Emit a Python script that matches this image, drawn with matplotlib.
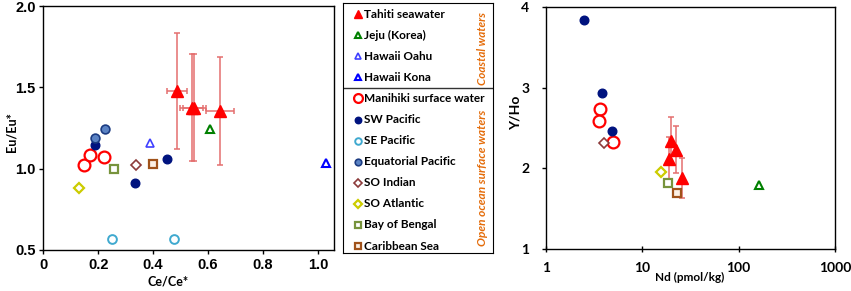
import numpy as np
import matplotlib.pyplot as plt

plt.rcParams['font.family'] = ['Lato', 'DejaVu Sans']
plt.rcParams['font.weight'] = 'bold'

# ---- left panel: Ce/Ce* vs Eu/Eu*
tahiti_ce = [0.486, 0.540, 0.549, 0.643]
tahiti_eu = [1.48, 1.375, 1.375, 1.355]
tahiti_ce_err = [0.036, 0.042, 0.042, 0.052]
tahiti_eu_err = [0.357, 0.33, 0.33, 0.33]
jeju_ce, jeju_eu = [0.608], [1.244]
oahu_ce, oahu_eu = [0.388], [1.158]
kona_ce, kona_eu = [1.03], [1.035]
manihiki_ce, manihiki_eu = [0.148, 0.17, 0.222], [1.025, 1.086, 1.072]
swpac_ce, swpac_eu = [0.188, 0.333, 0.452], [1.144, 0.913, 1.06]
sepac_ce, sepac_eu = [0.251, 0.475], [0.569, 0.569]
eqpac_ce, eqpac_eu = [0.188, 0.226], [1.189, 1.244]
soind_ce, soind_eu = [0.339], [1.023]
soatl_ce, soatl_eu = [0.131], [0.884]
bengal_ce, bengal_eu = [0.258], [0.999]
carib_ce, carib_eu = [0.399], [1.031]

# ---- right panel: Nd vs Y/Ho
tahiti_nd = [19.7, 22.4, 18.8, 25.8]
tahiti_yho = [2.34, 2.23, 2.12, 1.88]
tahiti_yho_err = [0.30, 0.29, 0.27, 0.25]
jeju_nd, jeju_yho = [161], [1.80]
manihiki_nd, manihiki_yho = [3.65, 3.59, 4.97], [2.73, 2.59, 2.33]
swpac_nd, swpac_yho = [2.47, 3.85, 4.82], [3.83, 2.93, 2.46]
soind_nd, soind_yho = [3.98], [2.32]
soatl_nd, soatl_yho = [15.5], [1.95]
bengal_nd, bengal_yho = [18.6], [1.82]
carib_nd, carib_yho = [23.1], [1.69]

names = ['Tahiti seawater', 'Jeju (Korea)', 'Hawaii Oahu', 'Hawaii Kona',
         'Manihiki surface water', 'SW Pacific', 'SE Pacific', 'Equatorial Pacific',
         'SO Indian', 'SO Atlantic', 'Bay of Bengal', 'Caribbean Sea']

left_data = {
    'Tahiti seawater': (tahiti_ce, tahiti_eu),
    'Jeju (Korea)': (jeju_ce, jeju_eu),
    'Hawaii Oahu': (oahu_ce, oahu_eu),
    'Hawaii Kona': (kona_ce, kona_eu),
    'Manihiki surface water': (manihiki_ce, manihiki_eu),
    'SW Pacific': (swpac_ce, swpac_eu),
    'SE Pacific': (sepac_ce, sepac_eu),
    'Equatorial Pacific': (eqpac_ce, eqpac_eu),
    'SO Indian': (soind_ce, soind_eu),
    'SO Atlantic': (soatl_ce, soatl_eu),
    'Bay of Bengal': (bengal_ce, bengal_eu),
    'Caribbean Sea': (carib_ce, carib_eu),
}
right_data = {
    'Tahiti seawater': (tahiti_nd, tahiti_yho),
    'Jeju (Korea)': (jeju_nd, jeju_yho),
    'Manihiki surface water': (manihiki_nd, manihiki_yho),
    'SW Pacific': (swpac_nd, swpac_yho),
    'SO Indian': (soind_nd, soind_yho),
    'SO Atlantic': (soatl_nd, soatl_yho),
    'Bay of Bengal': (bengal_nd, bengal_yho),
    'Caribbean Sea': (carib_nd, carib_yho),
}

# marker styles
styles = {
    'Tahiti seawater': dict(marker='^', mfc='#ff0000', mec='#ff0000', ms=8, mew=1),
    'Jeju (Korea)': dict(marker='^', mfc='white', mec='#008000', ms=6, mew=1.5),
    'Hawaii Oahu': dict(marker='^', mfc='white', mec='#4040ff', ms=6, mew=1.2),
    'Hawaii Kona': dict(marker='^', mfc='white', mec='#0000ff', ms=6, mew=1.5),
    'Manihiki surface water': dict(marker='o', mfc='white', mec='#ff0000', ms=8.5, mew=1.6),
    'SW Pacific': dict(marker='o', mfc='#00137f', mec='#00137f', ms=6.2, mew=1),
    'SE Pacific': dict(marker='o', mfc='white', mec='#3fa9cf', ms=6.3, mew=1.4),
    'Equatorial Pacific': dict(marker='o', mfc='#5b83c4', mec='#1c3c82', ms=6.3, mew=1.2),
    'SO Indian': dict(marker='D', mfc='white', mec='#8c3a3a', ms=5.5, mew=1.2),
    'SO Atlantic': dict(marker='D', mfc='white', mec='#cccc00', ms=5.5, mew=1.6),
    'Bay of Bengal': dict(marker='s', mfc='white', mec='#77933c', ms=6, mew=1.6),
    'Caribbean Sea': dict(marker='s', mfc='#fdf0e4', mec='#a0521a', ms=6, mew=1.6),
}

err_color = '#e46f6f'

fig = plt.figure(figsize=(8.51, 2.91), dpi=100)
ax1 = fig.add_axes([0.0509, 0.141, 0.342, 0.838])
leg = fig.add_axes([0.4027, 0.1306, 0.1766, 0.859])
ax2 = fig.add_axes([0.6416, 0.1433, 0.3396, 0.834])

# left panel
ax1.errorbar(tahiti_ce, tahiti_eu, xerr=tahiti_ce_err, yerr=tahiti_eu_err, fmt='none',
             ecolor=err_color, elinewidth=1.1, capsize=2.5, capthick=1.1, zorder=2)
for n in names:
    x, y = left_data[n]
    ax1.plot(x, y, linestyle='none', zorder=3, **styles[n])
ax1.set_xlim(0, 1.06)
ax1.set_ylim(0.5, 2.0)
ax1.set_xticks([0, 0.2, 0.4, 0.6, 0.8, 1.0])
ax1.set_xticklabels(['0', '0.2', '0.4', '0.6', '0.8', '1.0'])
ax1.set_yticks([0.5, 1.0, 1.5, 2.0])
ax1.set_yticklabels(['0.5', '1.0', '1.5', '2.0'])
for lab in ax1.get_xticklabels() + ax1.get_yticklabels():
    lab.set_family(['Liberation Sans', 'DejaVu Sans'])
    lab.set_fontsize(10.5)
    lab.set_fontweight('bold')
ax1.tick_params(direction='out', length=3, width=1, pad=2.5)
ax1.text(-0.108, 0.485, 'Eu/Eu*', rotation=90, transform=ax1.transAxes,
         ha='center', va='center', fontsize=9)
ax1.text(0.428, -0.13, 'Ce/Ce*', transform=ax1.transAxes,
         ha='center', va='center', fontsize=9)

# right panel
ax2.errorbar(tahiti_nd, tahiti_yho, yerr=tahiti_yho_err, fmt='none',
             ecolor=err_color, elinewidth=1.1, capsize=2.5, capthick=1.1, zorder=2)
for n in names:
    if n not in right_data:
        continue
    x, y = right_data[n]
    ax2.plot(x, y, linestyle='none', zorder=3, **styles[n])
ax2.set_xscale('log')
ax2.set_xlim(1, 1000)
ax2.set_ylim(1, 4)
ax2.set_xticks([1, 10, 100, 1000])
ax2.set_xticklabels(['1', '10', '100', '1000'])
ax2.xaxis.set_minor_locator(plt.NullLocator())
ax2.set_yticks([1, 2, 3, 4])
ax2.set_yticklabels(['1', '2', '3', '4'])
ax2.tick_params(axis='x', direction='inout', length=5, width=1, pad=7, labelsize=10)
ax2.tick_params(axis='y', direction='out', length=3, width=1, pad=9, labelsize=10)
ax2.text(-0.107, 0.562, 'Y/Ho', rotation=90, transform=ax2.transAxes,
         ha='center', va='center', fontsize=10)
ax2.text(0.498, -0.115, 'Nd (pmol/kg)', transform=ax2.transAxes,
         ha='center', va='center', fontsize=8.5)

for a in (ax1, ax2):
    for s in a.spines.values():
        s.set_linewidth(1)

# legend box (two groups)
leg.set_xlim(342.7, 493)
leg.set_ylim(253, 3)
leg.set_xticks([])
leg.set_yticks([])
row_y = 14
for n in names:
    st = dict(styles[n])
    st['ms'] = st['ms'] * 0.75
    leg.plot([358], [row_y], linestyle='none', **st)
    leg.text(364.5, row_y, n, ha='left', va='center', fontsize=8.5)
    row_y += 21.1
leg.axhline(87.5, color='#333333', lw=1)
leg.text(483, 48, 'Coastal waters', rotation=90, ha='center', va='center',
         color='#e46c0a', fontsize=8.4, style='italic')
leg.text(483, 178, 'Open ocean surface waters', rotation=90, ha='center', va='center',
         color='#e46c0a', fontsize=8.6, style='italic')

fig.savefig('out.png', dpi=100)
